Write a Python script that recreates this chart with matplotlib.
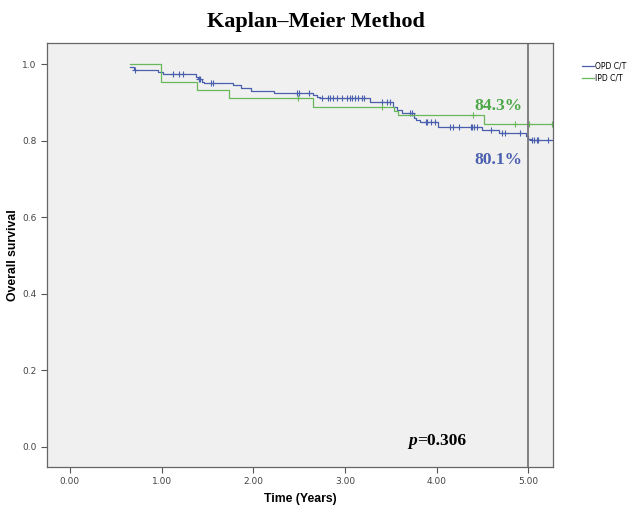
import numpy as np
import matplotlib.pyplot as plt
from matplotlib.lines import Line2D

# OPD C/T  (step times, survival after each step)
opd_t = [0.655, 0.70, 0.96, 1.01, 1.375, 1.40, 1.44, 1.46, 1.78, 1.87, 1.97, 2.23,
         2.65, 2.69, 2.73, 3.27, 3.52, 3.57, 3.62, 3.75, 3.78, 3.82, 4.02, 4.49,
         4.68, 4.97, 5.00, 5.03]
opd_s = [0.994, 0.985, 0.981, 0.976, 0.968, 0.961, 0.955, 0.950, 0.946, 0.937, 0.931, 0.926,
         0.920, 0.914, 0.911, 0.902, 0.889, 0.880, 0.873, 0.859, 0.854, 0.850, 0.837, 0.828,
         0.821, 0.812, 0.806, 0.801]
opd_cens = [0.71, 1.12, 1.19, 1.23, 1.41, 1.42, 1.54, 1.56, 2.48, 2.50, 2.61, 2.75, 2.81,
            2.84, 2.87, 2.91, 2.97, 3.02, 3.06, 3.08, 3.11, 3.14, 3.19, 3.21, 3.40, 3.46,
            3.49, 3.71, 3.73, 3.88, 3.90, 3.94, 3.98, 4.15, 4.18, 4.24, 4.37, 4.39, 4.41,
            4.44, 4.59, 4.71, 4.75, 4.91, 5.04, 5.06, 5.09, 5.11, 5.21]

# IPD C/T
ipd_t = [0.655, 0.99, 1.39, 1.73, 2.65, 3.53, 3.58, 4.52]
ipd_s = [1.000, 0.954, 0.933, 0.911, 0.889, 0.878, 0.868, 0.843]
ipd_cens = [2.49, 3.40, 4.40, 4.85, 5.01, 5.26]

t_end = 5.28
blue = '#4a5fae'
green = '#68b85a'


def surv_at(times, surv, x):
    idx = np.searchsorted(times, x, side='right') - 1
    return np.array(surv)[idx]


fig = plt.figure(figsize=(6.32, 5.05), dpi=100)
ax = fig.add_axes([0.0744, 0.0752, 0.8006, 0.8398])
ax.set_facecolor('#f0f0f0')

for t, s, c, cens in [(opd_t, opd_s, blue, opd_cens), (ipd_t, ipd_s, green, ipd_cens)]:
    ax.step(t + [t_end], s + [s[-1]], where='post', color=c, lw=0.9)
    ax.plot(cens, surv_at(t, s, cens), ls='none', marker='+', ms=5, mew=0.8, color=c)

ax.axvline(5.0, color='#777777', lw=1.3)

ax.text(4.67, 0.891, '84.3%', color='#4ea84a', fontsize=12.5, fontweight='bold',
        family='Liberation Serif', ha='center', va='center')
ax.text(4.67, 0.750, '80.1%', color='#4a5fae', fontsize=12.5, fontweight='bold',
        family='Liberation Serif', ha='center', va='center')
ax.text(3.69, 0.015, 'p', fontsize=12.5, fontweight='bold', style='italic',
        family='Liberation Serif', ha='left', va='center')
ax.annotate('=0.306', xy=(3.69, 0.015), xytext=(6.3, 0), textcoords='offset points',
            fontsize=12.5, fontweight='bold', family='Liberation Serif', ha='left', va='center')

ax.set_xlim(-0.25, 5.27)
ax.set_ylim(-0.053, 1.056)
ax.set_xticks(np.arange(0, 6))
ax.set_xticklabels(['0.00', '1.00', '2.00', '3.00', '4.00', '5.00'])
ax.set_yticks(np.arange(0, 1.01, 0.2))
ax.set_yticklabels(['0.0', '0.2', '0.4', '0.6', '0.8', '1.0'])
ax.tick_params(labelsize=6.5, labelcolor='#444444', color='#555555', length=4, width=0.8)
for sp in ax.spines.values():
    sp.set_color('#666666')
    sp.set_linewidth(0.9)

ax.set_xlabel('Time (Years)', fontsize=8.8, fontweight='bold', family='Liberation Sans', labelpad=5)
ax.set_ylabel('Overall survival', fontsize=8.8, fontweight='bold', family='Liberation Sans', labelpad=2)

fig.text(0.5, 0.956, 'Kaplan\u2013Meier Method', fontsize=16, fontweight='bold',
         family='Liberation Serif', ha='center', va='center')

handles = [Line2D([], [], color=blue, lw=0.9), Line2D([], [], color=green, lw=0.9)]
fig.legend(handles, ['OPD C/T', 'IPD C/T'], loc='upper left', bbox_to_anchor=(0.915, 0.885),
           frameon=False, fontsize=5.5, handlelength=1.6, handletextpad=0.1, labelspacing=0.3,
           borderpad=0)

fig.savefig('out.png', dpi=100)
